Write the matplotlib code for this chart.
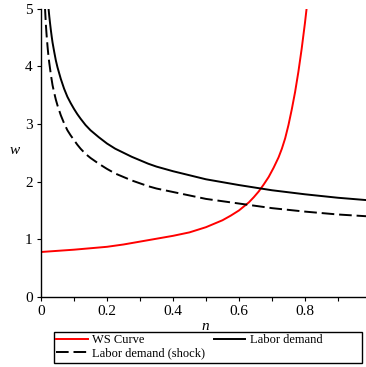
import matplotlib
matplotlib.use("Agg")
import matplotlib.pyplot as plt
from matplotlib.patches import Rectangle

# WS curve (red)
ws_n = [0.0, 0.05, 0.1, 0.15, 0.2, 0.25, 0.3, 0.35, 0.4, 0.45, 0.5, 0.55, 0.575, 0.6,
        0.615, 0.63, 0.645, 0.66, 0.675, 0.69, 0.705, 0.72, 0.73, 0.74, 0.75, 0.76,
        0.77, 0.78, 0.79, 0.80, 0.81]
ws_w = [0.78, 0.80, 0.82, 0.845, 0.87, 0.91, 0.96, 1.01, 1.06, 1.12, 1.21, 1.33, 1.41, 1.50,
        1.57, 1.64, 1.73, 1.83, 1.95, 2.08, 2.24, 2.42, 2.57, 2.75, 2.98, 3.25,
        3.55, 3.90, 4.30, 4.75, 5.25]

# Labor demand (solid black)
ld_n = [0.022, 0.025, 0.0275, 0.03, 0.0325, 0.035, 0.04, 0.045, 0.05, 0.06, 0.07, 0.08,
        0.09, 0.1, 0.11, 0.12, 0.135, 0.15, 0.175, 0.2, 0.225, 0.25, 0.275, 0.3, 0.325,
        0.35, 0.4, 0.45, 0.5, 0.55, 0.6, 0.7, 0.8, 0.9, 0.985]
ld_w = [5.05, 4.87, 4.74, 4.62, 4.51, 4.41, 4.25, 4.10, 3.98, 3.78, 3.61, 3.47,
        3.36, 3.26, 3.17, 3.09, 2.98, 2.89, 2.77, 2.66, 2.57, 2.50, 2.43, 2.37, 2.31,
        2.26, 2.18, 2.11, 2.04, 1.99, 1.94, 1.85, 1.78, 1.72, 1.68]

# Labor demand after shock (dashed black)
sh_n = [0.012, 0.015, 0.0175, 0.02, 0.0225, 0.025, 0.03, 0.035, 0.04, 0.045, 0.05, 0.06,
        0.07, 0.08, 0.09, 0.1, 0.11, 0.12, 0.135, 0.15, 0.175, 0.2, 0.225, 0.25, 0.275,
        0.3, 0.325, 0.35, 0.4, 0.45, 0.5, 0.55, 0.6, 0.7, 0.8, 0.9, 0.985]
sh_w = [5.02, 4.70, 4.50, 4.33, 4.18, 4.06, 3.85, 3.67, 3.54, 3.42, 3.32, 3.15,
        3.01, 2.89, 2.80, 2.72, 2.64, 2.57, 2.48, 2.41, 2.31, 2.22, 2.14, 2.08, 2.02,
        1.97, 1.92, 1.88, 1.82, 1.76, 1.70, 1.66, 1.62, 1.54, 1.48, 1.43, 1.40]

x_ticks = [0, 0.2, 0.4, 0.6, 0.8]
x_tick_labels = ["0", "0.2", "0.4", "0.6", "0.8"]
y_ticks = [0, 1, 2, 3, 4, 5]
y_tick_labels = ["0", "1", "2", "3", "4", "5"]

plt.rcParams['font.family'] = ['Liberation Serif', 'DejaVu Serif']

W, H = 366, 367
fig = plt.figure(figsize=(W / 100, H / 100), dpi=100)
ax = fig.add_axes([41 / W, 1 - 297 / H, (366 - 41) / W, (297 - 8.5) / H])

l1, = ax.plot(ws_n, ws_w, color='#ff0000', lw=1.4, label='WS Curve')
l2, = ax.plot(ld_n, ld_w, color='black', lw=1.4, label='Labor demand')
l3, = ax.plot(sh_n, sh_w, color='black', lw=1.4, label='Labor demand (shock)')
l3.set_dashes((6.5, 2.5))

ax.set_xlim(0, 0.985)
ax.set_ylim(0, 5)
for s in ['top', 'right']:
    ax.spines[s].set_visible(False)
for s in ['left', 'bottom']:
    ax.spines[s].set_linewidth(1.0)

ax.set_xticks(x_ticks)
ax.set_xticklabels(x_tick_labels)
ax.set_xticks([0.1, 0.3, 0.5, 0.7, 0.9], minor=True)
ax.set_yticks(y_ticks)
ax.set_yticklabels(y_tick_labels)
ax.tick_params(axis='both', which='major', direction='out', length=3, width=0.8,
               labelsize=11, pad=3)
ax.tick_params(axis='x', which='minor', direction='out', length=3, width=0.8)

fig.text(15 / W, 1 - 151 / H, 'w', style='italic', fontsize=11, ha='center', va='center')
fig.text(205 / W, 1 - 326 / H, 'n', style='italic', fontsize=11, ha='center', va='center')

leg = fig.legend([l1, l3, l2], ['WS Curve', 'Labor demand (shock)', 'Labor demand'],
                 ncol=2, loc='upper left', bbox_to_anchor=(55 / W, 1 - 333 / H),
                 fontsize=9, frameon=False, handlelength=2.5,
                 handletextpad=0.4, columnspacing=0.65, labelspacing=0.05,
                 borderpad=0.1, borderaxespad=0)
fig.patches.append(Rectangle((53.5 / W, 1 - 363 / H), 308.5 / W, 31 / H,
                             transform=fig.transFigure, fill=False,
                             edgecolor='black', linewidth=1.0))

fig.savefig('out.png', dpi=100)
